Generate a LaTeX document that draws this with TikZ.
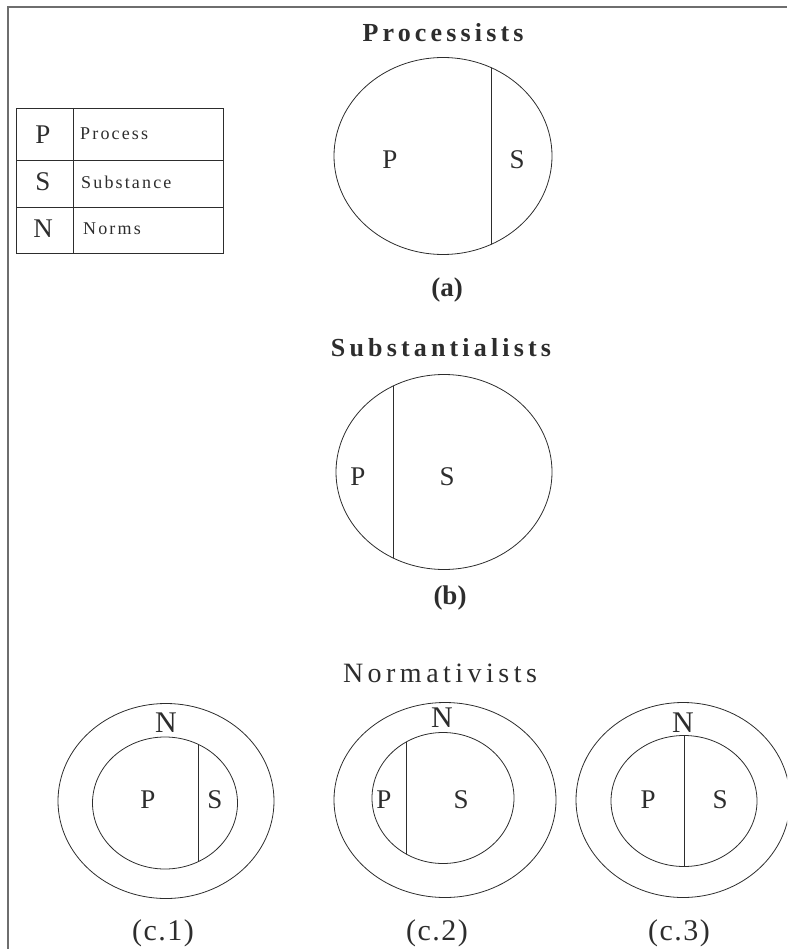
\documentclass[tikz,border=0pt]{standalone}
\usepackage{fontspec}
\setmainfont{Liberation Serif}
\newfontfamily\headserif[LetterSpace=16]{Liberation Serif}
\newfontfamily\legserif[LetterSpace=12]{Liberation Serif}
\newfontfamily\capserif[LetterSpace=5]{Liberation Serif}
\usepackage{xcolor}
\definecolor{inkGray}{RGB}{45, 45, 45}
\definecolor{frameGray}{RGB}{110, 110, 110}
\usepackage{tikz}
\usetikzlibrary{positioning}

\begin{document}
\begin{tikzpicture}[x=1pt, y=-1pt,
  ring/.style={draw=inkGray, line width=0.8pt},
  divide/.style={draw=inkGray, line width=0.8pt},
  heading/.style={font=\headserif\bfseries\fontsize{26}{28}\selectfont, text=inkGray, inner sep=0pt},
  letter/.style={font=\fontsize{27}{29}\selectfont, text=inkGray, inner sep=0pt},
  caption/.style={font=\capserif\fontsize{30}{32}\selectfont, text=inkGray, inner sep=0pt},
  legword/.style={font=\legserif\fontsize{18}{20}\selectfont, text=inkGray, anchor=west, inner sep=0pt}]

  \useasboundingbox (0,0) rectangle (787,949);
  \clip (0,0) rectangle (787,949);

  % ── Page frame ───────────────────────────────────────────────────
  \coordinate (frameTL) at (8,7);
  \draw[frameGray, line width=1.6pt] (8,949) -- (frameTL) -- (787,7);

  % ── Legend table ─────────────────────────────────────────────────
  \draw[inkGray, line width=0.8pt] (16,108) rectangle (223,253);
  \draw[inkGray, line width=0.8pt] (16,160) -- (223,160);
  \draw[inkGray, line width=0.8pt] (16,207) -- (223,207);
  \draw[inkGray, line width=0.8pt] (73,108) -- (73,253);
  \node[letter] (legP) at (43,135) {P};
  \node[letter] (legS) at (43,182) {S};
  \node[letter] (legN) at (43,229) {N};
  \node[legword] (legProcess) at (80,134) {Process};
  \node[legword] (legSubstance) at (81,182) {Substance};
  \node[legword] (legNorms) at (83,229) {Norms};

  % ── (a) Processists ──────────────────────────────────────────────
  \node[heading] (procTitle) at (443,33) {Processists};
  \coordinate (aC) at (443,156);
  \draw[ring] (aC) ellipse [x radius=109pt, y radius=98.5pt];
  \begin{scope}
    \clip (aC) ellipse [x radius=109pt, y radius=98.5pt];
    \draw[divide] (491,40) -- (491,280);
  \end{scope}
  \node[letter] (aP) at (390,160) {P};
  \node[letter] (aS) at (517,160) {S};
  \node[caption, font=\bfseries\fontsize{27}{29}\selectfont] (aCap) at (447,290) {(a)};

  % ── (b) Substantialists ──────────────────────────────────────────
  \node[heading] (subTitle) at (441,348) {Substantialists};
  \coordinate (bC) at (444,472);
  \draw[ring] (bC) ellipse [x radius=108pt, y radius=97.5pt];
  \begin{scope}
    \clip (bC) ellipse [x radius=108pt, y radius=97.5pt];
    \draw[divide] (393,360) -- (393,590);
  \end{scope}
  \node[letter] (bP) at (358,477) {P};
  \node[letter] (bS) at (447,477) {S};
  \node[caption, font=\bfseries\fontsize{27}{29}\selectfont] (bCap) at (450,598) {(b)};

  % ── (c) Normativists ─────────────────────────────────────────────
  \node[font=\headserif\fontsize{28}{30}\selectfont, text=inkGray, inner sep=0pt]
        (normTitle) at (440,673) {Normativists};

  % c.1
  \coordinate (c1C) at (166,801);
  \coordinate (c1I) at (165,803);
  \draw[ring] (c1C) ellipse [x radius=108pt, y radius=97.5pt];
  \draw[ring] (c1I) ellipse [x radius=72.5pt, y radius=66pt];
  \begin{scope}
    \clip (c1I) ellipse [x radius=72.5pt, y radius=66pt];
    \draw[divide] (198,720) -- (198,880);
  \end{scope}
  \node[letter, font=\fontsize{30}{32}\selectfont] (c1N) at (166,723) {N};
  \node[letter] (c1P) at (148,800) {P};
  \node[letter] (c1S) at (215,800) {S};
  \node[caption] (c1Cap) at (163,933) {(c.1)};

  % c.2
  \coordinate (c2C) at (445,800);
  \coordinate (c2I) at (443,798);
  \draw[ring] (c2C) ellipse [x radius=111pt, y radius=97.5pt];
  \draw[ring] (c2I) ellipse [x radius=71pt, y radius=65.5pt];
  \begin{scope}
    \clip (c2I) ellipse [x radius=71pt, y radius=65.5pt];
    \draw[divide] (406,720) -- (406,880);
  \end{scope}
  \node[letter, font=\fontsize{30}{32}\selectfont] (c2N) at (442,718) {N};
  \node[letter] (c2P) at (384,800) {P};
  \node[letter] (c2S) at (461,800) {S};
  \node[caption] (c2Cap) at (437,933) {(c.2)};

  % c.3
  \coordinate (c3C) at (683,800);
  \coordinate (c3I) at (684,801);
  \draw[ring] (c3C) ellipse [x radius=107pt, y radius=97.5pt];
  \draw[ring] (c3I) ellipse [x radius=73pt, y radius=65.5pt];
  \begin{scope}
    \clip (c3I) ellipse [x radius=73pt, y radius=65.5pt];
    \draw[divide] (684,720) -- (684,880);
  \end{scope}
  \node[letter, font=\fontsize{30}{32}\selectfont] (c3N) at (683,723) {N};
  \node[letter] (c3P) at (648,800) {P};
  \node[letter] (c3S) at (720,800) {S};
  \node[caption] (c3Cap) at (679,933) {(c.3)};

\end{tikzpicture}
\end{document}
